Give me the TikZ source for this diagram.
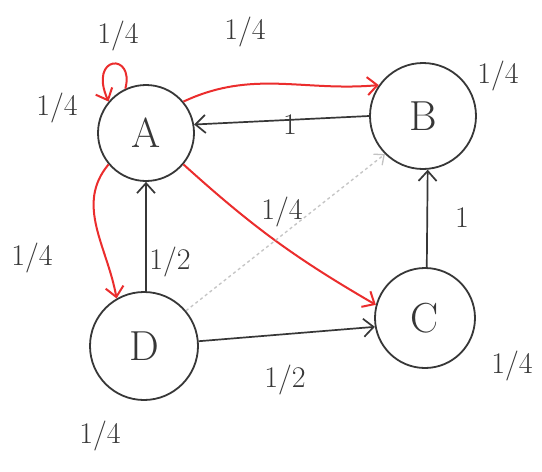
\documentclass[tikz,border=0pt]{standalone}
\usetikzlibrary{arrows.meta}
\definecolor{pen}{RGB}{55,55,55}
\definecolor{redpen}{RGB}{235,45,45}
\definecolor{faint}{RGB}{195,195,195}
\begin{document}
\begin{tikzpicture}[x=1pt,y=-1pt,
  state/.style={draw=pen,line width=1.8pt,circle,inner sep=0pt,font=\fontsize{42}{42}\selectfont,text=pen},
  lbl/.style={font=\fontsize{30}{30}\selectfont,text=pen},
  blk/.style={draw=pen,line width=1.7pt,-{Straight Barb[length=10pt,width=18pt]}},
  red/.style={draw=redpen,line width=2pt,-{Straight Barb[length=10pt,width=18pt]}},
  fnt/.style={draw=faint,line width=1.3pt,dashed,-{Straight Barb[length=8pt,width=14pt]}}]
\useasboundingbox[fill=white] (0,0) rectangle (542,472);
\node[state,minimum size=96pt] (A) at (146,133) {A};
\node[state,minimum size=106pt] (B) at (423,116) {B};
\node[state,minimum size=100pt] (C) at (425,318) {C};
\node[state,minimum size=108pt] (D) at (144,346) {D};
% edges
\draw[red] (A.115) .. controls (135,52) and (88,55) .. (A.140);
\draw[red] (A.40) to[out=25,in=185] (B.145);
\draw[blk] (B.180) -- (A.10);
\draw[red] (A.220) to[out=230,in=100] (D.120);
\draw[blk] (D.88) -- (A.270);
\draw[red] (A.320) to[bend right=6] (C.165);
\draw[fnt] (D.40) -- (B.225);
\draw[blk] (D.5) -- (C.190);
\draw[blk] (C.88) -- (B.275);
% edge labels
\node[lbl] (l1) at (118,36) {1/4};
\node[lbl] (l2) at (245,32) {1/4};
\node[lbl] (l3) at (290,125) {1};
\node[lbl] (l4) at (32,258) {1/4};
\node[lbl] (l5) at (170,262) {1/2};
\node[lbl] (l6) at (282,212) {1/4};
\node[lbl] (l7) at (285,380) {1/2};
\node[lbl] (l8) at (462,218) {1};
% state labels
\node[lbl] (sA) at (57,108) {1/4};
\node[lbl] (sB) at (498,76) {1/4};
\node[lbl] (sC) at (512,366) {1/4};
\node[lbl] (sD) at (100,436) {1/4};
\end{tikzpicture}
\end{document}
